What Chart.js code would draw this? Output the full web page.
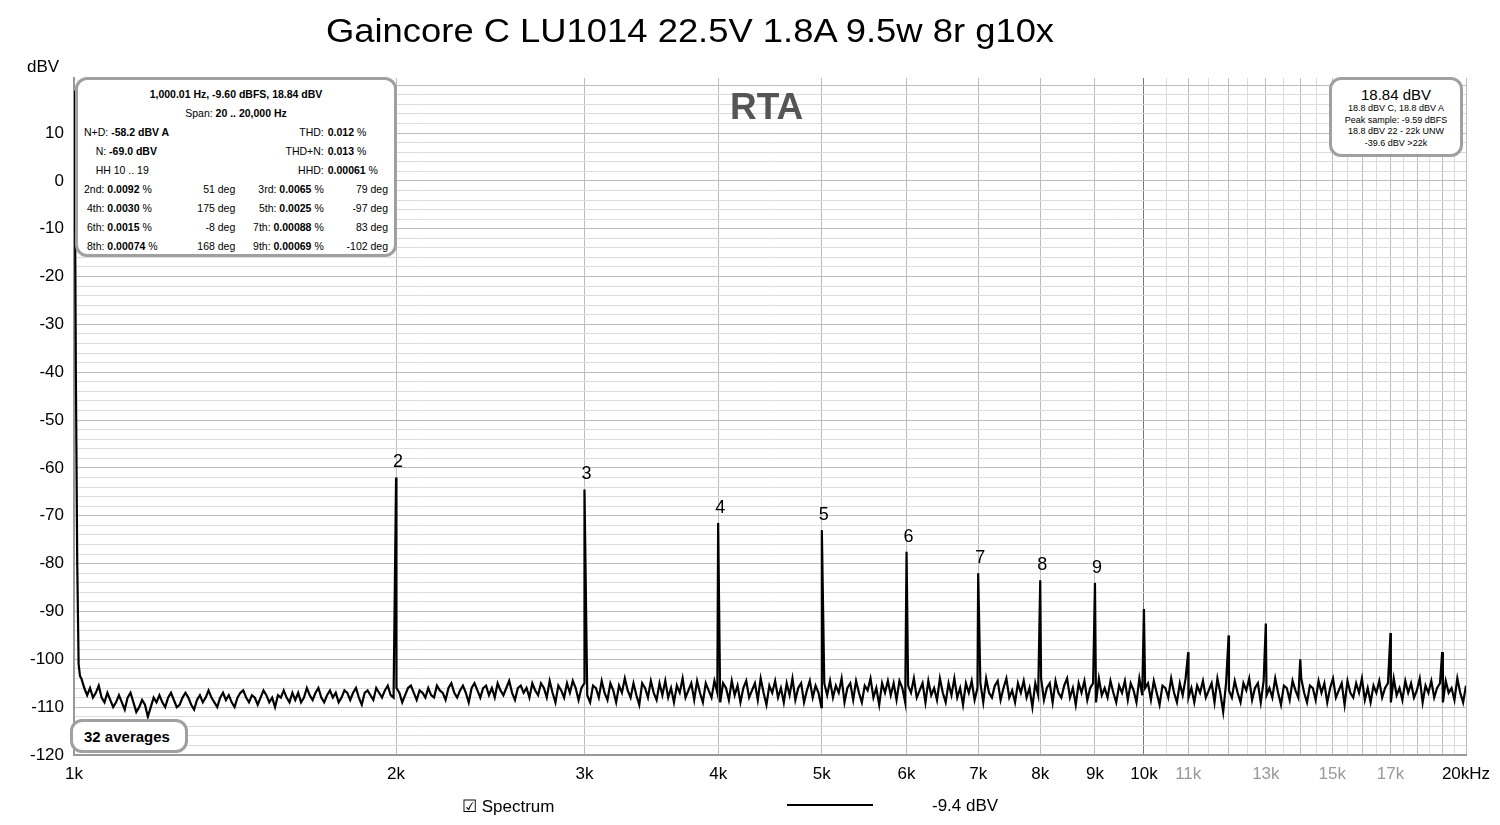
<!DOCTYPE html>
<html><head><meta charset="utf-8">
<script src="https://cdn.jsdelivr.net/npm/chart.js@4.4.1/dist/chart.umd.min.js"></script>
<style>
body{margin:0;width:1500px;height:825px;background:#fff;font-family:Arial,"Liberation Sans",sans-serif;position:relative;overflow:hidden}
#wrap{position:absolute;left:0;top:0;width:1500px;height:825px}
.t{position:absolute;white-space:nowrap}
.box{position:absolute;background:#fff;border:3px solid #a0a0a0;border-radius:12px;box-sizing:border-box}
table{border-collapse:collapse;font-size:10.5px;width:100%}
td{padding:0 2px;height:19px}
b{font-weight:bold}
</style></head><body>
<div id="wrap"><canvas id="c" width="1500" height="825"></canvas></div>
<div class="t" style="left:326px;top:11px;font-size:34px;transform:scaleX(1.07);transform-origin:left">Gaincore C LU1014 22.5V 1.8A 9.5w 8r g10x</div>
<div class="t" style="left:27px;top:57px;font-size:17px">dBV</div>
<div class="t" style="left:730px;top:86px;font-size:37px;font-weight:bold;color:#555">RTA</div>
<div class="box" style="left:75px;top:77px;width:322px;height:180px;padding:4px 4px">
<table>
<tr><td colspan="4" style="text-align:center"><b>1,000.01 Hz, -9.60 dBFS, 18.84 dBV</b></td></tr>
<tr><td colspan="4" style="text-align:center">Span: <b>20 .. 20,000 Hz</b></td></tr>
<tr><td>N+D: <b>-58.2 dBV A</b></td><td></td><td style="text-align:right">THD:</td><td><b>0.012</b> %</td></tr>
<tr><td>&nbsp;&nbsp;&nbsp;&nbsp;N: <b>-69.0 dBV</b></td><td></td><td style="text-align:right">THD+N:</td><td><b>0.013</b> %</td></tr>
<tr><td>&nbsp;&nbsp;&nbsp;&nbsp;HH 10 .. 19</td><td></td><td style="text-align:right">HHD:</td><td><b>0.00061</b> %</td></tr>
<tr><td>2nd: <b>0.0092</b> %</td><td style="text-align:right">51 deg</td><td style="text-align:right">3rd: <b>0.0065</b> %</td><td style="text-align:right">79 deg</td></tr>
<tr><td>&nbsp;4th: <b>0.0030</b> %</td><td style="text-align:right">175 deg</td><td style="text-align:right">5th: <b>0.0025</b> %</td><td style="text-align:right">-97 deg</td></tr>
<tr><td>&nbsp;6th: <b>0.0015</b> %</td><td style="text-align:right">-8 deg</td><td style="text-align:right">7th: <b>0.00088</b> %</td><td style="text-align:right">83 deg</td></tr>
<tr><td>&nbsp;8th: <b>0.00074</b> %</td><td style="text-align:right">168 deg</td><td style="text-align:right">9th: <b>0.00069</b> %</td><td style="text-align:right">-102 deg</td></tr>
</table></div>
<div class="box" style="left:1329px;top:77px;width:134px;height:80px;text-align:center;font-size:9px;line-height:11.5px;padding-top:6px">
<div style="font-size:15px;line-height:17px">18.84 dBV</div>
18.8 dBV C, 18.8 dBV A<br>Peak sample: -9.59 dBFS<br>18.8 dBV 22 - 22k UNW<br>-39.6 dBV &gt;22k</div>
<div class="box" style="left:70px;top:719px;width:118px;height:34px;font-size:15px;font-weight:bold;padding:6px 0 0 11px">32 averages</div>
<div class="t" style="left:462px;top:796px;font-size:17px">&#9745; Spectrum</div>
<div style="position:absolute;left:787px;top:804px;width:86px;height:2px;background:#000"></div>
<div class="t" style="left:932px;top:796px;font-size:17px">-9.4 dBV</div>
<script>
const fundamental = [[1000,18.84],[1002,-2],[1004,-40],[1007,-80],[1010,-101],[1013,-103.5]];
const harmonicFreqs = [2000,3000,4000,5000,6000,7000,8000,9000,10000,11000,12000,13000,14000,17000,19000];
const harmonicLevels = [-62,-64.5,-71.5,-73,-77.5,-82,-83.5,-84,-89.5,-98.5,-95,-92.5,-100,-94.5,-98.5];
const harmonicLabels = ['2','3','4','5','6','7','8','9'];
const noise = [
-104,-106,-107.5,-106,-108,-107,-105.5,-108,-109,-107,-108.5,-110,-109,-107.5,-109,-110.5,-108,-107,-109,-111,
-110,-108.5,-109.5,-112,-110,-108,-109,-107.5,-109,-110,-108,-107,-108.5,-110,-109.5,-108,-107,-108,-109.5,-110.5,
-108.5,-107.5,-109,-108,-106.5,-108,-109,-110,-108,-107,-108.5,-107.5,-109,-110,-108,-107,-106.5,-108,-109,-107.5,
-108,-109.5,-108,-106.5,-107.5,-109,-108,-110,-107.5,-108,-106.5,-108,-109,-107,-108.5,-107,-109,-108,-106,-107.5,
-108.5,-107,-106,-108,-109,-107.5,-106.5,-108,-107,-109,-108,-106.5,-107,-108.5,-107,-106,-108,-109.5,-107,-106.5,
-107.5,-108.5,-106,-107,-108,-106.5,-105.5,-107.5,-108,-106,-107,-109,-107.5,-106,-105.5,-107,-108.5,-106.5,-107,-108,
-106,-107.5,-108,-105.5,-106.5,-107,-108.5,-106,-105,-107,-108,-106.5,-105.5,-107,-109,-106,-105,-106.5,-108,-106,
-105.5,-107.5,-106,-108,-105,-106.5,-107.5,-106,-104.5,-107,-108.5,-106,-105.5,-107,-106,-108,-105,-106.5,-107.5,-105,
-106,-108,-104.5,-107,-109,-105.5,-106.5,-108,-105,-107,-104.5,-106,-108.5,-106,-105,-107.5,-109,-105.5,-106,-108,
-104.5,-107,-108.5,-105,-106.5,-109,-105.5,-107,-104,-106.5,-108,-105,-107.5,-109.5,-105,-106,-108,-104.5,-107,-108.5,
-105,-107.5,-104.5,-108,-106,-109,-105.5,-107,-104,-108,-106.5,-105,-108.5,-104.5,-107,-109,-105,-106.5,-108,-104.5,
-107,-109,-105,-106,-108.5,-104.5,-107.5,-105.5,-109,-106,-104.5,-108,-106.5,-105,-108.5,-104,-107,-109.5,-105.5,-107,
-104.5,-108,-106,-109,-105,-107.5,-104,-108.5,-106,-105,-109,-106.5,-104.5,-108,-105.5,-107,-110,-105,-107.5,-104.5,
-108,-105.5,-107,-104,-109,-106,-105,-108.5,-104.5,-107,-109,-105.5,-106.5,-104,-108,-106,-109.5,-105,-107,-104.5,
-107.5,-105,-108.5,-104.5,-106,-109,-105.5,-107,-104,-108,-106.5,-105,-109,-104.5,-107.5,-106,-108.5,-104,-107,-109,
-105,-107.5,-104,-108,-106,-109.5,-105,-107,-104.5,-108.5,-106,-105,-109,-104,-107,-108,-105.5,-104.5,-108.5,-106,
-104,-108,-106.5,-109,-105,-107,-104.5,-108,-106,-110,-105,-107.5,-104,-108.5,-106,-105,-109,-104.5,-107,-108,
-105.5,-104,-108,-106,-109.5,-105,-107,-104.5,-108.5,-106,-105,-109,-104,-107.5,-106,-108,-104.5,-107,-109,-105.5,
-107,-104.5,-108.5,-105,-106.5,-109,-104,-107.5,-106,-105,-108.5,-104.5,-107,-109.5,-105.5,-106,-108,-104,-107,-109,
-105,-107.5,-104,-108,-106,-109,-105.5,-107,-104.5,-108,-106.5,-105,-109,-104,-107,-111,-105,-106.5,-108,-104.5,
-107,-109,-105,-106.5,-104,-108.5,-106,-105,-109,-104.5,-107.5,-106,-108,-104,-107,-109.5,-105.5,-106,-108.5,-104.5,
-106.5,-108,-104,-107,-109,-105.5,-106,-108.5,-104.5,-107,-105,-109,-106,-104,-108,-106.5,-105,-109.5,-104.5,-107,
-108,-105,-107,-104,-108.5,-106,-109,-105.5,-107,-104.5,-108,-106,-105,-109,-104,-107.5,-106,-108.5,-104.5,-107,
-105,-108,-106.5,-104,-109,-105.5,-107,-104.5,-108,-106,-105,-109,-104.5,-107,-106,-108.5,-104,-107,-109,-105.5];
const xMajor = [1000,2000,3000,4000,5000,6000,7000,8000,9000,10000,20000];
const xGrey = [11000,13000,15000,17000];

const pts = fundamental.map(p=>({x:p[0],y:p[1]}));
const n = noise.length;
for(let i=0;i<n;i++) pts.push({x:1016*Math.pow(20000/1016,i/(n-1)),y:noise[i]});
harmonicFreqs.forEach((f,i)=>pts.push({x:f,y:harmonicLevels[i]}));
pts.sort((a,b)=>a.x-b.x);

const labelPlugin={id:'hl',afterDatasetsDraw(ch){
 const c=ch.ctx,xs=ch.scales.x,ys=ch.scales.y;
 c.save();c.font='18px Arial';c.fillStyle='#000';c.textAlign='center';c.textBaseline='bottom';
 harmonicLabels.forEach((l,i)=>c.fillText(l,xs.getPixelForValue(harmonicFreqs[i])+2,ys.getPixelForValue(harmonicLevels[i])-6));
 c.restore();}};

new Chart(document.getElementById('c'),{type:'line',
 data:{datasets:[{data:pts,borderColor:'#000',borderWidth:2.2,pointRadius:0,tension:0}]},
 options:{responsive:false,animation:false,events:[],
  layout:{padding:{top:78,right:34,left:0,bottom:0}},
  plugins:{legend:{display:false},tooltip:{enabled:false}},
  scales:{
   x:{type:'logarithmic',min:1000,max:20000,
    afterBuildTicks(s){const t=[];for(let f=1000;f<=10000;f+=1000)t.push({value:f});for(let f=10500;f<=20000;f+=500)t.push({value:f});s.ticks=t;},
    afterFit(s){s.height=70;},
    grid:{color(ctx){const v=ctx.tick&&ctx.tick.value;return v===10000?'#777':(v%1000===0?'#bdbdbd':'#dcdcdc');},lineWidth:1,drawTicks:false},
    border:{color:'#999',width:2},
    ticks:{autoSkip:false,maxRotation:0,padding:9,font:{size:17,family:'Arial'},
     color(ctx){return xGrey.includes(ctx.tick.value)?'#999':'#000';},
     callback(v){if(v===20000)return '20kHz';if(xMajor.includes(v)||xGrey.includes(v))return (v/1000)+'k';return '';}}},
   y:{min:-120,max:21.5,
    afterBuildTicks(s){const t=[];for(let v=-120;v<=20;v+=2)t.push({value:v});s.ticks=t;},
    afterFit(s){s.width=74;},
    grid:{color(ctx){const v=ctx.tick&&ctx.tick.value;return v%10===0?'#bdbdbd':'#dcdcdc';},drawTicks:false},
    border:{color:'#999',width:2},
    ticks:{autoSkip:false,padding:10,font:{size:17,family:'Arial'},color:'#000',
     callback(v){return (v%10===0&&v<20)?String(v):'';}}}}},
 plugins:[labelPlugin]});
</script></body></html>
